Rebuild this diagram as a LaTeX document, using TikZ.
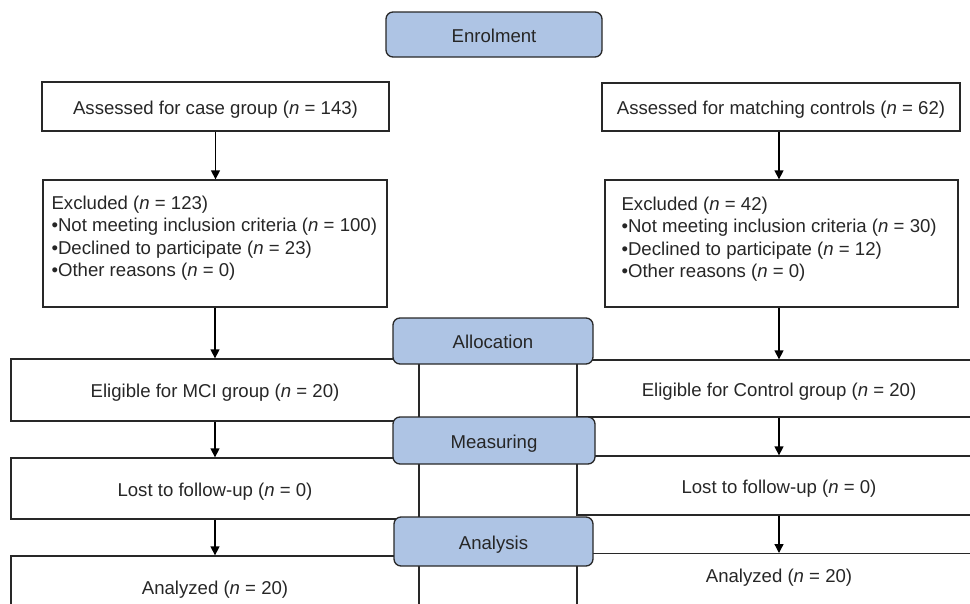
\documentclass[tikz,border=0pt]{standalone}
\usepackage{fontspec}
\setmainfont{Liberation Sans}
\usetikzlibrary{arrows.meta}
\definecolor{phaseblue}{RGB}{174,196,228}
\definecolor{linegray}{RGB}{40,40,40}
\newcommand*{\nn}[1]{(\textit{n} = #1)}

\begin{document}
\begin{tikzpicture}[x=1pt,y=-1pt,>={Triangle[length=9pt,width=9pt]},
      font=\fontsize{18.6}{22.5}\selectfont, text=black!85,
      box/.style={draw=linegray,line width=1.3pt,inner sep=0pt,text height=17.5pt,text depth=1.9pt},
      phase/.style={box,fill=phaseblue,rounded corners=7pt},
      flow/.style={->,draw=black,line width=1.3pt}]
      \useasboundingbox (0,0) rectangle (970,603);
      % enrolment
      \node[box, minimum width=347pt, minimum height=49pt] (asscase) at (215.5,106.5) {Assessed for case group \nn{143}};
      \node[box, minimum width=358pt, minimum height=48pt] (asscon) at (781,107) {Assessed for matching controls \nn{62}};
      \node[box, minimum width=344pt, minimum height=127pt] (exccase) at (215,243.5) {};
      \node[anchor=north west, align=left, inner sep=0pt] (exccasetxt) at ([shift={(9,16)}]exccase.north west)
        {Excluded \nn{123}\\\textbullet Not meeting inclusion criteria \nn{100}\\\textbullet Declined to participate \nn{23}\\\textbullet Other reasons \nn{0}};
      \node[box, minimum width=353pt, minimum height=127pt] (exccon) at (781.5,243.5) {};
      \node[anchor=north west, align=left, inner sep=0pt] (excconTxt) at ([shift={(17,17)}]exccon.north west)
        {Excluded \nn{42}\\\textbullet Not meeting inclusion criteria \nn{30}\\\textbullet Declined to participate \nn{12}\\\textbullet Other reasons \nn{0}};
      % case column
      \node[box, minimum width=408pt, minimum height=62pt] (elgcase) at (215,390) {Eligible for MCI group \nn{20}};
      \node[box, minimum width=408pt, minimum height=61pt] (lostcase) at (215,488.5) {Lost to follow-up \nn{0}};
      \node[box, minimum width=408pt, minimum height=62pt] (anacase) at (215,587) {Analyzed \nn{20}};
      % control column
      \node[box, minimum width=404pt, minimum height=57pt] (elgcon) at (779,388.5) {Eligible for Control group \nn{20}};
      \node[box, minimum width=404pt, minimum height=59pt] (lostcon) at (779,485.5) {Lost to follow-up \nn{0}};
      \node[box, minimum width=404pt, minimum height=80pt, anchor=north] (anacon) at (779,553) {};
      \node (anacontxt) at (779,578) {Analyzed \nn{20}};
      % arrows
      \draw[flow] (asscase.south) -- (asscase.south |- exccase.north);
      \draw[flow] (asscon.south -| elgcon) -- (elgcon |- exccon.north);
      \draw[flow] (exccase.south) -- (exccase.south |- elgcase.north);
      \draw[flow] (exccon.south -| elgcon) -- (elgcon.north);
      \draw[flow] (elgcase.south) -- (lostcase.north);
      \draw[flow] (elgcon.south) -- (lostcon.north);
      \draw[flow] (lostcase.south) -- (anacase.north);
      \draw[flow] (lostcon.south) -- (anacon.north);
      % phases
      \node[phase, minimum width=216pt, minimum height=45pt] (enrol) at (494,34.5) {Enrolment};
      \node[phase, minimum width=200pt, minimum height=46pt] (alloc) at (493,341) {Allocation};
      \node[phase, minimum width=202pt, minimum height=47pt] (meas) at (494,440.5) {Measuring};
      \node[phase, minimum width=199pt, minimum height=49pt] (anal) at (493.5,541.5) {Analysis};
\end{tikzpicture}
\end{document}
